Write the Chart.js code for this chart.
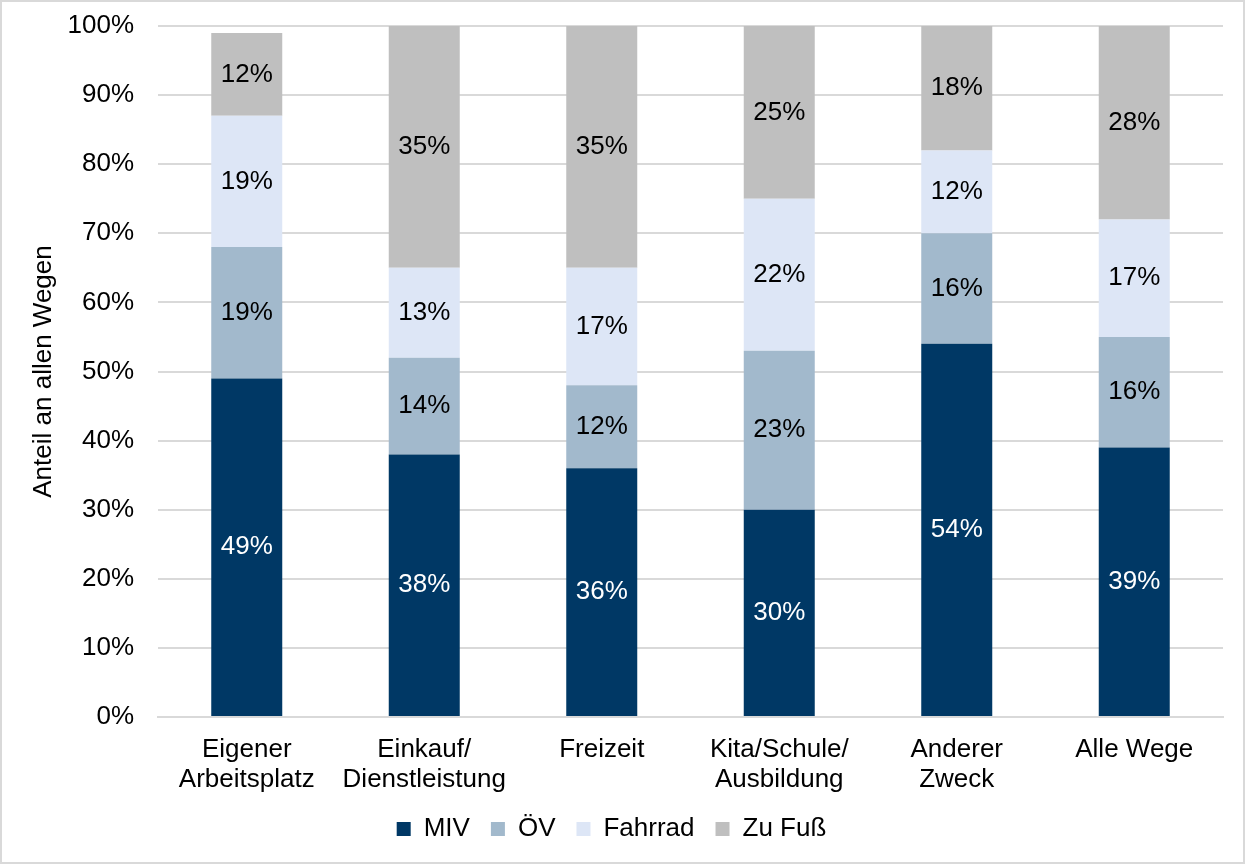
<!DOCTYPE html>
<html><head><meta charset="utf-8">
<script src="https://cdn.jsdelivr.net/npm/chart.js@4.4.0/dist/chart.umd.min.js"></script>
<style>html,body{margin:0;padding:0;background:#fff}#wrap{width:1245px;height:864px;position:relative}</style>
</head><body><div id="wrap"><canvas id="c" width="1245" height="864"></canvas></div>
<script>
const categories = [["Eigener","Arbeitsplatz"],["Einkauf/","Dienstleistung"],"Freizeit",["Kita/Schule/","Ausbildung"],["Anderer","Zweck"],"Alle Wege"];
const seriesNames = ["MIV","ÖV","Fahrrad","Zu Fuß"];
const miv = [49,38,36,30,54,39];
const oev = [19,14,12,23,16,16];
const fahrrad = [19,13,17,22,12,17];
const zuFuss = [12,35,35,25,18,28];
const yTicks = [0,10,20,30,40,50,60,70,80,90,100];
const colors = ["#003865","#A2B9CC","#DDE6F6","#BFBFBF"];
const labelColors = ["#ffffff","#000000","#000000","#000000"];

const FONT = "'Liberation Sans', Arial, sans-serif";
const FS = 26;
Chart.defaults.font.family = FONT;
Chart.defaults.color = "#000";

const border = {
  id:'border',
  afterDraw(chart){
    const ctx = chart.ctx;
    ctx.save();
    ctx.strokeStyle = '#D9D9D9';
    ctx.lineWidth = 2;
    ctx.strokeRect(1,1,chart.width-2,chart.height-2);
    ctx.restore();
  }
};
const labels = {
  id:'barLabels',
  afterDatasetsDraw(chart){
    const ctx = chart.ctx;
    ctx.save();
    ctx.font = FS + "px " + FONT;
    ctx.textAlign = 'center';
    ctx.textBaseline = 'middle';
    chart.data.datasets.forEach((ds,i)=>{
      const meta = chart.getDatasetMeta(i);
      meta.data.forEach((bar,j)=>{
        const v = ds.data[j];
        ctx.fillStyle = labelColors[i];
        const yc = (bar.y + bar.base)/2;
        ctx.fillText(v + '%', bar.x, yc);
      });
    });
    ctx.restore();
  }
};

const all = [miv,oev,fahrrad,zuFuss];
new Chart(document.getElementById('c'),{
  type:'bar',
  data:{
    labels:categories,
    datasets: seriesNames.map((n,i)=>({label:n,data:all[i],backgroundColor:colors[i],barPercentage:0.8,categoryPercentage:0.5}))
  },
  options:{
    responsive:false,
    animation:false,
    layout:{padding:{top:26,right:22,left:0,bottom:12}},
    plugins:{
      legend:{position:'bottom',labels:{font:{size:FS,family:FONT},boxWidth:14,boxHeight:14,padding:21,color:'#000'}},
      tooltip:{enabled:false}
    },
    scales:{
      x:{stacked:true,
        grid:{display:false,drawTicks:false},
        border:{color:'#D9D9D9',width:2},
        ticks:{font:{size:FS,family:FONT,lineHeight:1.15},color:'#000',padding:18,maxRotation:0,autoSkip:false},
        afterFit(s){s.height=78;}
      },
      y:{stacked:true,min:0,max:100,
        afterBuildTicks(s){s.ticks = yTicks.map(v=>({value:v}));},
        grid:{color:'#D9D9D9',lineWidth:2,drawTicks:false},
        border:{display:false},
        ticks:{font:{size:FS,family:FONT},color:'#000',padding:24,callback:v=>v+'%'},
        title:{display:true,text:'Anteil an allen Wegen',font:{size:FS,family:FONT},color:'#000',padding:{top:28,bottom:0}},
        afterFit(s){s.width=158;s.paddingTop=0;s.paddingBottom=0;}
      }
    }
  },
  plugins:[border,labels]
});
</script></body></html>
